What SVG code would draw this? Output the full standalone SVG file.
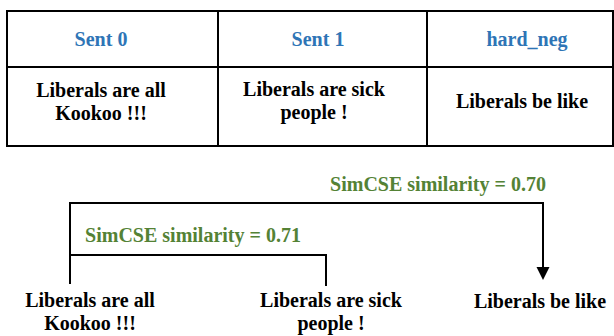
<svg xmlns="http://www.w3.org/2000/svg" width="614" height="336" viewBox="0 0 614 336">
<defs>
<style>
text{font-family:"Liberation Serif","Times New Roman",serif;font-weight:bold;font-size:20px;text-anchor:middle}
.hd{fill:#2E75B6}
.bd{fill:#000}
.sim{fill:#548235}
.ln{stroke:#000;stroke-width:2;fill:none}
</style>
</defs>
<rect width="614" height="336" fill="#fff"/>
<g id="table">
<rect x="7" y="11" width="606" height="135" class="ln"/>
<line x1="7" y1="67" x2="613" y2="67" class="ln"/>
<line x1="218" y1="11" x2="218" y2="146" class="ln"/>
<line x1="427" y1="11" x2="427" y2="146" class="ln"/>
<text x="101" y="46" class="hd">Sent 0</text>
<text x="318" y="46" class="hd">Sent 1</text>
<text x="527" y="46" class="hd">hard_neg</text>
<text x="101" y="97" class="bd">Liberals are all</text>
<text x="101" y="120" class="bd">Kookoo !!!</text>
<text x="314" y="96" class="bd">Liberals are sick</text>
<text x="314" y="119" class="bd">people !</text>
<text x="522" y="108" class="bd">Liberals be like</text>
</g>
<g id="connectors">
<polyline points="70,284 70,203 543,203 543,267" class="ln"/>
<path d="M536.5,267 L549.5,267 L543,280 Z" fill="#000"/>
<polyline points="70,255 326,255 326,286" class="ln"/>
</g>
<g id="label-070"><text x="438" y="191" class="sim">SimCSE similarity = 0.70</text></g>
<g id="label-071"><text x="193" y="242" class="sim">SimCSE similarity = 0.71</text></g>
<g id="node-sent0"><text x="90" y="307" class="bd">Liberals are all</text><text x="90" y="330" class="bd">Kookoo !!!</text></g>
<g id="node-sent1"><text x="331" y="307" class="bd">Liberals are sick</text><text x="331" y="330" class="bd">people !</text></g>
<g id="node-hardneg"><text x="540" y="308" class="bd">Liberals be like</text></g>
</svg>
